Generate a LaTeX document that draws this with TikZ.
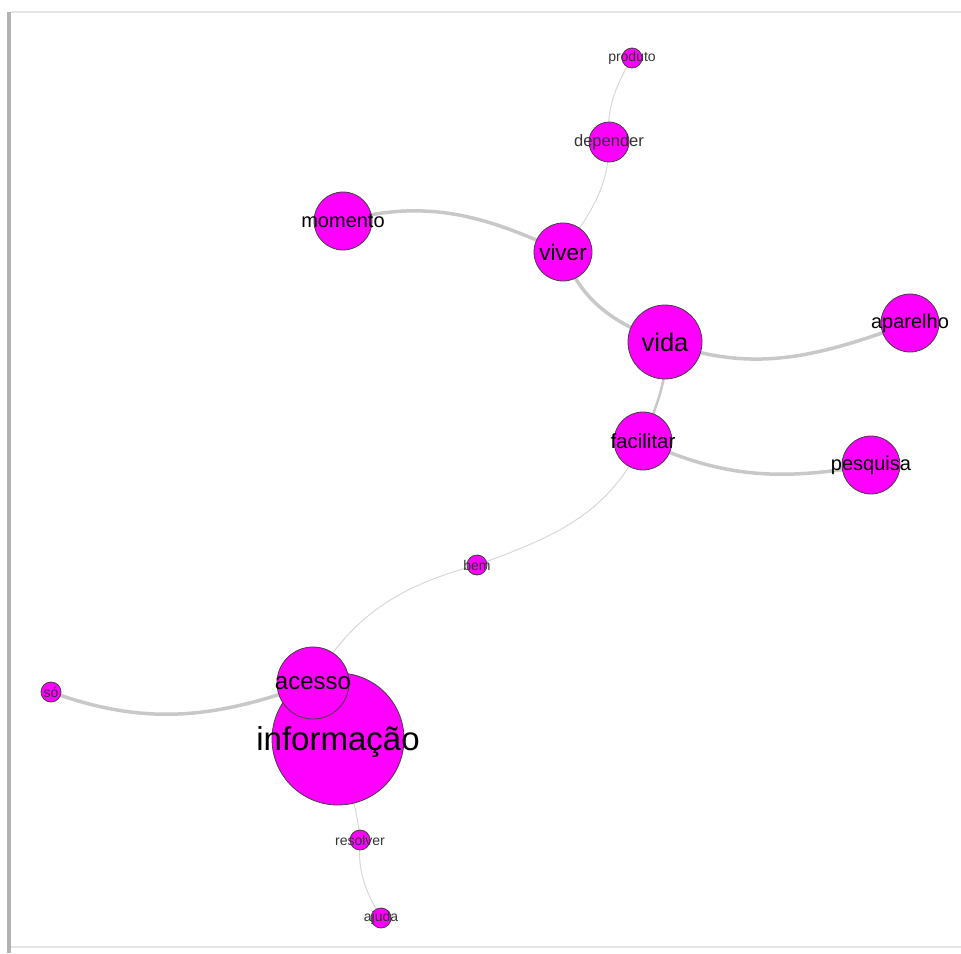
\documentclass[tikz,border=0pt]{standalone}
\usepackage{fontspec}
\setmainfont{Liberation Sans}
\usetikzlibrary{backgrounds}
\newcommand{\wsize}[1]{\fontsize{#1}{#1}\selectfont}
\definecolor{vfill}{RGB}{255,0,255}
\definecolor{edgegray}{RGB}{200,200,200}
\definecolor{thingray}{RGB}{215,215,215}

\begin{document}
\begin{tikzpicture}[x=1pt, y=-1pt,
		word/.style={circle, draw=black!75, line width=0.8pt, fill=vfill, inner sep=0pt, minimum size=#1},
		strong/.style={draw=edgegray, line width=3.5pt},
		medium/.style={draw=edgegray, line width=2.5pt},
		weak/.style={draw=thingray, line width=1pt}]
	\useasboundingbox (0,0) rectangle (961,953);
	% frame
	\draw[gray!60, line width=4pt] (9,12) -- (9,953);
	\draw[gray!20, line width=1.5pt] (11,12) -- (961,12);
	\draw[gray!20, line width=1.5pt] (11,947) -- (961,947);
	% words
	\node[word=20, label={[font=\wsize{14}, text=black!80]center:produto}] (produto) at (632,58) {};
	\node[word=40, label={[font=\wsize{16.5}, text=black!80]center:depender}] (depender) at (609,142) {};
	\node[word=58, label={[font=\wsize{20}]center:momento}] (momento) at (343,221) {};
	\node[word=58, label={[font=\wsize{22.5}]center:viver}] (viver) at (563,252) {};
	\node[word=74, label={[font=\wsize{25.5}]center:vida}] (vida) at (665,342) {};
	\node[word=58, label={[font=\wsize{20}]center:aparelho}] (aparelho) at (910,323) {};
	\node[word=58, label={[font=\wsize{20.5}]center:facilitar}] (facilitar) at (643,441) {};
	\node[word=58, label={[font=\wsize{20}]center:pesquisa}] (pesquisa) at (871,465) {};
	\node[word=20, label={[font=\wsize{14}, text=black!80]center:bem}] (bem) at (477,565) {};
	\node[word=132, label={[font=\wsize{33}, yshift=-3pt]center:informação}] (informacao) at (338,739) {};
	\node[word=72, label={[font=\wsize{24}]center:acesso}] (acesso) at (313,683) {};
	\node[word=20, label={[font=\wsize{14}, text=black!80]center:só}] (so) at (51,692) {};
	\node[word=20, label={[font=\wsize{14}, text=black!80]center:resolver}] (resolver) at (360,840) {};
	\node[word=20, label={[font=\wsize{14}, text=black!80]center:ajuda}] (ajuda) at (381,918) {};
	% links
	\begin{scope}[on background layer]
		\draw[weak] (depender.center) to[out=95, in=-120] (produto.center);
		\draw[weak] (depender.center) to[out=-90, in=55] (viver.center);
		\draw[strong] (momento.center) to[out=15, in=155] (viver.center);
		\draw[strong] (viver.center) to[out=-70, in=160] (vida.center);
		\draw[strong] (vida.center) to[out=-20, in=200] (aparelho.center);
		\draw[medium] (vida.center) to[out=-85, in=70] (facilitar.center);
		\draw[strong] (facilitar.center) to[out=-25, in=190] (pesquisa.center);
		\draw[weak] (facilitar.center) to[out=-115, in=20] (bem.center);
		\draw[weak] (bem.center) to[out=195, in=60] (acesso.center);
		\draw[strong] (acesso.center) to[out=200, in=-20] (so.center);
		\draw[weak] (informacao.center) to[out=-80, in=95] (resolver.center);
		\draw[weak] (resolver.center) to[out=-95, in=120] (ajuda.center);
	\end{scope}
\end{tikzpicture}
\end{document}
